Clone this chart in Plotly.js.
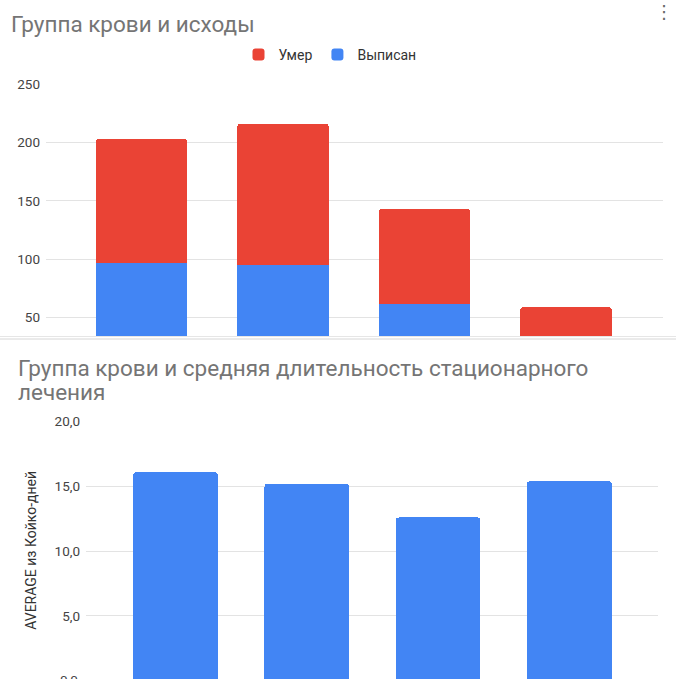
<!DOCTYPE html>
<html>
<head>
<meta charset="utf-8">
<script src="https://cdn.plot.ly/plotly-3.0.1.min.js"></script>
<style>html,body{margin:0;padding:0;background:#fff;}#chart{width:676px;height:679px;}</style>
</head>
<body>
<div id="chart"></div>
<script>
// Data
var bloodGroups = ['0 (I)', 'A (II)', 'B (III)', 'AB (IV)'];
var discharged = [97, 95, 62, 25];     // Выписан
var died = [106, 121, 81, 34];         // Умер
var avgBedDays = [16.1, 15.2, 12.6, 15.4]; // AVERAGE из Койко-дней
var topTicks = [50, 100, 150, 200, 250];
var bottomTicks = [0, 5, 10, 15, 20];

var W = 676, H = 679;
function px(x){ return x / W; }
function py(y){ return 1 - y / H; }

var traces = [
  {type:'bar', name:'Выписан', x:bloodGroups, y:discharged, xaxis:'x', yaxis:'y',
   marker:{color:'#4285f4'}, hoverinfo:'y+name'},
  {type:'bar', name:'Умер', x:bloodGroups, y:died, xaxis:'x', yaxis:'y',
   marker:{color:'#ea4335'}, hoverinfo:'y+name'},
  {type:'bar', name:'AVERAGE из Койко-дней', x:bloodGroups, y:avgBedDays, xaxis:'x2', yaxis:'y2',
   marker:{color:'#4285f4'}, showlegend:false}
];

var tickFont = {family:'Roboto, Arial, sans-serif', size:13.5, color:'#444'};
var titleFont = {family:'Roboto, Arial, sans-serif', size:22.5, color:'#757575'};

var layout = {
  width: W, height: H,
  margin: {l:0, r:0, t:0, b:0},
  paper_bgcolor:'#fff', plot_bgcolor:'#fff',
  barmode:'stack', bargap:0.355, barcornerradius:3,
  separators:', ',
  showlegend:true,
  legend:{orientation:'h', x:px(330), xanchor:'center', y:py(55), yanchor:'middle',
          traceorder:'reversed', font:{family:'Roboto, Arial, sans-serif', size:14, color:'#333'},
          itemwidth:30, bgcolor:'rgba(0,0,0,0)'},
  title:{text:'Группа крови и исходы', x:px(11), xanchor:'left', y:py(24), yanchor:'middle',
         font:titleFont},
  xaxis:{domain:[px(46), px(663)], range:[-0.675, 3.685], showticklabels:false,
         showgrid:false, zeroline:false, showline:false, fixedrange:true, anchor:'y'},
  yaxis:{domain:[py(336.7), py(84)], range:[33.6, 250], tickvals:topTicks,
         gridcolor:'#e3e3e3', gridwidth:1, zeroline:false, showline:false,
         tickfont:tickFont, ticks:'', ticklabelstandoff:5, anchor:'x'},
  xaxis2:{domain:[px(86), px(658)], range:[-0.682, 3.675], showticklabels:false,
          showgrid:false, zeroline:false, showline:false, anchor:'y2'},
  yaxis2:{domain:[0, py(421.7)], range:[0.12, 20], tickvals:bottomTicks, tickformat:'.1f',
          gridcolor:'#e3e3e3', gridwidth:1, zeroline:false, showline:false,
          tickfont:tickFont, ticks:'', ticklabelstandoff:5, anchor:'x2',
          title:{text:'AVERAGE из Койко-дней', standoff:14,
                 font:{family:'Roboto, Arial, sans-serif', size:14, color:'#333'}}},
  annotations:[
    {text:'Группа крови и средняя длительность стационарного', xref:'paper', yref:'paper',
     x:px(16), y:py(368), xanchor:'left', yanchor:'middle', showarrow:false, font:titleFont},
    {text:'лечения', xref:'paper', yref:'paper',
     x:px(16), y:py(392), xanchor:'left', yanchor:'middle', showarrow:false, font:titleFont},
    {text:'0,0', xref:'paper', yref:'paper', x:px(80), y:py(680), xanchor:'right', yanchor:'middle',
     showarrow:false, font:tickFont},
    {text:'⋮', xref:'paper', yref:'paper', x:px(664), y:py(11), xanchor:'center', yanchor:'middle',
     showarrow:false, font:{family:'DejaVu Sans, sans-serif', size:18, color:'#666'}}
  ],
  shapes:[
    {type:'line', xref:'paper', yref:'paper', x0:0, x1:1, y0:py(336.5), y1:py(336.5),
     line:{color:'#e6e6e6', width:1}},
    {type:'line', xref:'paper', yref:'paper', x0:0, x1:1, y0:py(339), y1:py(339),
     line:{color:'#d6d6d6', width:1}}
  ]
};

Plotly.newPlot('chart', traces, layout, {displayModeBar:false, staticPlot:true});
</script>
</body>
</html>
